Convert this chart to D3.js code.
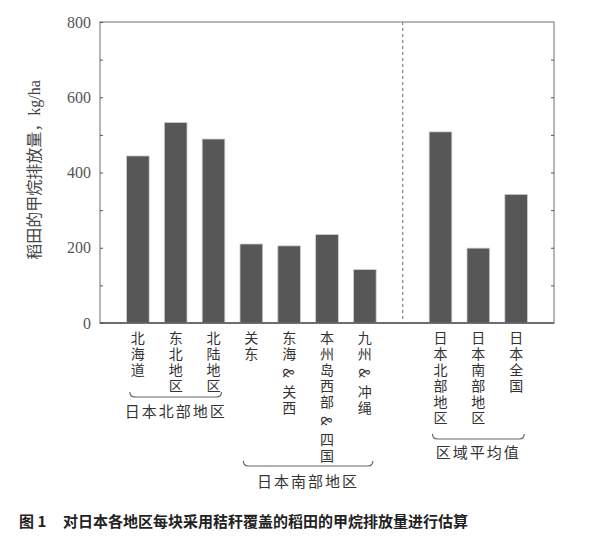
<!DOCTYPE html>
<html>
<head>
<meta charset="utf-8">
<script src="https://cdn.jsdelivr.net/npm/d3@7"></script>
<style>
  body { margin: 0; background: #fff; }
</style>
</head>
<body>
<div id="chart"></div>
<script>
// data
var categories = ["北海道", "东北地区", "北陆地区", "关东", "东海 & 关西", "本州岛西部 & 四国", "九州 & 冲绳",
                  "日本北部地区", "日本南部地区", "日本全国"]
var values = [444, 533, 489, 210, 205, 235, 142, 508, 199, 342]
var slots = ["北海道", "东北地区", "北陆地区", "关东", "东海 & 关西", "本州岛西部 & 四国", "九州 & 冲绳",
             "gap", "日本北部地区", "日本南部地区", "日本全国"]
var groupNames = ["日本北部地区", "日本南部地区", "区域平均值"]
var groupFirst = ["北海道", "关东", "日本北部地区"]
var groupLast = ["北陆地区", "九州 & 冲绳", "日本全国"]
var majorTicks = [0, 200, 400, 600, 800]
var minorTicks = [100, 300, 500, 700]

var width = 593,
    height = 545
var plotLeft = 100, plotRight = 554, plotTop = 22, plotBottom = 323

var svg = d3.select("#chart")
  .append("svg")
    .attr("width", width)
    .attr("height", height)

var x = d3.scaleBand()
  .domain(slots)
  .range([plotLeft, plotRight])
  .paddingInner(0.4)
  .paddingOuter(0.7)

var y = d3.scaleLinear()
  .domain([0, 800])
  .range([plotBottom, plotTop])

// frame
svg.append("rect")
  .attr("x", plotLeft).attr("y", plotTop)
  .attr("width", plotRight - plotLeft).attr("height", plotBottom - plotTop)
  .attr("fill", "none")
  .attr("stroke", "#a0a0a0")
  .attr("stroke-width", 1.5)

// bars
svg.selectAll(".bar")
  .data(values)
  .enter()
  .append("rect")
  .attr("x", function(d, i) { return x(categories[i]) })
  .attr("y", function(d) { return y(d) })
  .attr("width", x.bandwidth())
  .attr("height", function(d) { return y(0) - y(d) })
  .attr("fill", "#575757")
  .attr("stroke", "#d0d0d0")
  .attr("stroke-width", 0.8)

// dashed separator
var gx = x("gap") + x.bandwidth() / 2
svg.append("line")
  .attr("x1", gx).attr("x2", gx)
  .attr("y1", plotTop).attr("y2", plotBottom)
  .attr("stroke", "#8a8a8a")
  .attr("stroke-width", 1.3)
  .attr("stroke-dasharray", "3,3")

// bottom axis line
svg.append("line")
  .attr("x1", plotLeft).attr("x2", plotRight)
  .attr("y1", plotBottom).attr("y2", plotBottom)
  .attr("stroke", "#555")
  .attr("stroke-width", 1.5)

// left axis
var yAxis = svg.append("g")
  .attr("transform", "translate(" + plotLeft + ",0)")
  .call(d3.axisLeft(y).tickValues(majorTicks).tickSize(-3).tickPadding(9).tickFormat(d3.format("d")))
yAxis.attr("font-family", "Liberation Serif").attr("font-size", 16)
yAxis.select(".domain").remove()
yAxis.selectAll("text")
  .attr("fill", "#555")
yAxis.selectAll("line").attr("stroke", "#555")

var yMinor = svg.append("g")
  .attr("transform", "translate(" + plotLeft + ",0)")
  .call(d3.axisLeft(y).tickValues(minorTicks).tickSize(-3).tickFormat(""))
yMinor.select(".domain").remove()
yMinor.selectAll("line").attr("stroke", "#555")

// right axis ticks
var yRight = svg.append("g")
  .attr("transform", "translate(" + plotRight + ",0)")
  .call(d3.axisRight(y).tickValues([100, 200, 300, 400, 500, 600, 700]).tickSize(-3).tickFormat(""))
yRight.select(".domain").remove()
yRight.selectAll("line").attr("stroke", "#555")

// y label
svg.append("text")
  .attr("transform", "translate(40,170) rotate(-90)")
  .attr("text-anchor", "middle")
  .style("font-family", "'Liberation Serif', 'Noto Sans CJK SC', serif")
  .style("font-size", "16px")
  .attr("fill", "#444")
  .text("稻田的甲烷排放量，kg/ha")

// category labels (vertical)
svg.selectAll(".cat")
  .data(categories)
  .enter()
  .append("text")
  .attr("x", function(d) { return x(d) + x.bandwidth() / 2 })
  .attr("y", 331)
  .style("writing-mode", "vertical-rl")
  .style("font-family", "'Noto Sans CJK SC', 'Liberation Serif', serif")
  .style("font-size", "14px")
  .style("letter-spacing", "2px")
  .attr("fill", "#333")
  .text(function(d) { return d })

// group braces
var braceY = [397, 466, 439]
var labelY = [417, 487, 458]
groupNames.forEach(function(g, i) {
  var x0 = x(groupFirst[i]) + x.bandwidth() / 2 - 8
  var x1 = x(groupLast[i]) + x.bandwidth() / 2 + 8
  var by = braceY[i]
  svg.append("path")
    .attr("d", "M" + x0 + "," + (by - 5) + " Q" + x0 + "," + by + " " + (x0 + 5) + "," + by +
               " L" + (x1 - 5) + "," + by + " Q" + x1 + "," + by + " " + x1 + "," + (by - 5))
    .attr("fill", "none")
    .attr("stroke", "#666")
    .attr("stroke-width", 1.2)
  svg.append("text")
    .attr("x", (x0 + x1) / 2)
    .attr("y", labelY[i])
    .attr("text-anchor", "middle")
    .style("font-family", "'Noto Sans CJK SC', serif")
    .style("font-size", "15px")
    .style("letter-spacing", "2px")
    .attr("fill", "#333")
    .text(g)
})

// caption
svg.append("text")
  .attr("x", 19).attr("y", 527)
  .style("font-family", "'Noto Sans CJK SC', sans-serif")
  .style("font-size", "15px")
  .style("font-weight", "bold")
  .attr("fill", "#222")
  .text("图 1")
svg.append("text")
  .attr("x", 63).attr("y", 527)
  .style("font-family", "'Noto Sans CJK SC', sans-serif")
  .style("font-size", "15px")
  .style("font-weight", "bold")
  .attr("fill", "#222")
  .text("对日本各地区每块采用秸秆覆盖的稻田的甲烷排放量进行估算")
</script>
</body>
</html>
